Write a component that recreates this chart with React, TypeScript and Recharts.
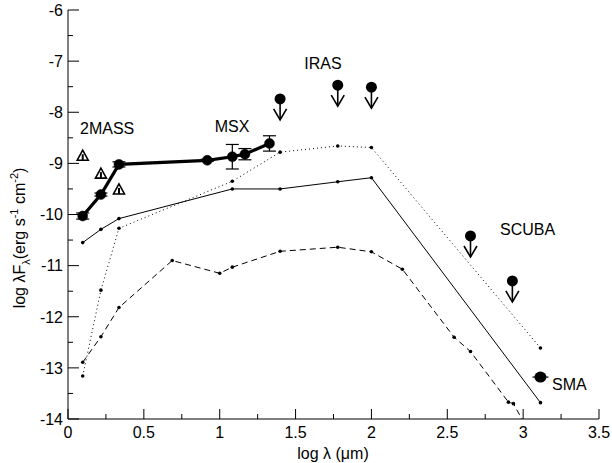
import { ComposedChart, Line, Scatter, XAxis, YAxis, ErrorBar } from 'recharts';

// log wavelength (um) of the observed points: 2MASS J,H,K then MSX A,C,D,E
const obsLogLam = [0.097, 0.217, 0.336, 0.918, 1.083, 1.166, 1.328];
const obsLogFlux = [-10.03, -9.61, -9.02, -8.94, -8.87, -8.82, -8.61];
const obsErr = [0.06, 0.03, 0.05, 0.02, 0.24, 0.11, 0.15];

// open triangles near the 2MASS bands
const triLogLam = [0.097, 0.217, 0.336];
const triLogFlux = [-8.86, -9.21, -9.52];

// upper limits: IRAS 25/60/100, SCUBA 450/850
const limLogLam = [1.398, 1.778, 2.0, 2.653, 2.929];
const limLogFlux = [-7.74, -7.47, -7.51, -10.42, -11.3];

// SMA 1.3 mm
const smaLogLam = [3.114];
const smaLogFlux = [-13.18];

// model SEDs
const modelLogLam = [0.097, 0.217, 0.336, 1.083, 1.398, 1.778, 2.0, 3.114];
const modelSolid = [-10.55, -10.29, -10.08, -9.5, -9.5, -9.36, -9.28, -13.68];
const modelDotted = [-13.16, -11.48, -10.27, -9.35, -8.78, -8.66, -8.69, -12.61];
const dashedLogLam = [0.097, 0.217, 0.336, 0.687, 1.0, 1.083, 1.398, 1.778, 2.0, 2.204, 2.545, 2.653, 2.903, 2.936, 3.114];
const modelDashed = [-12.89, -12.39, -11.82, -10.9, -11.15, -11.03, -10.72, -10.64, -10.73, -11.07, -12.4, -12.68, -13.67, -13.7, -14.66];

const xTicks = [0, 0.25, 0.5, 0.75, 1, 1.25, 1.5, 1.75, 2, 2.25, 2.5, 2.75, 3, 3.25, 3.5];
const yTicks = [-14, -13.5, -13, -12.5, -12, -11.5, -11, -10.5, -10, -9.5, -9, -8.5, -8, -7.5, -7, -6.5, -6];

const W = 612;
const H = 463;
const FONT = 'Liberation Sans, Arial, sans-serif';

const toPts = (xs: number[], ys: number[]) => xs.map((x, i) => ({ x, y: ys[i] }));

const obsData = obsLogLam.map((x, i) => ({ x, y: obsLogFlux[i], err: obsErr[i] }));
const triData = toPts(triLogLam, triLogFlux);
const limData = toPts(limLogLam, limLogFlux);
const smaData = toPts(smaLogLam, smaLogFlux);
const solidData = toPts(modelLogLam, modelSolid);
const dottedData = toPts(modelLogLam, modelDotted);
const dashedData = toPts(dashedLogLam, modelDashed);

const isWhole = (v: number, step: number) => Math.abs(v / step - Math.round(v / step)) < 1e-6;

const BottomTick = ({ x, y, payload }: any) => {
  const major = isWhole(payload.value, 0.5);
  return (
    <g>
      <line x1={x} y1={y} x2={x} y2={y - (major ? 10 : 5)} stroke="#000" />
      {major && (
        <text x={x} y={y + 19} textAnchor="middle" fontSize={16} fontFamily={FONT} fill="#000">
          {payload.value}
        </text>
      )}
    </g>
  );
};

const TopTick = ({ x, y, payload }: any) => {
  const major = isWhole(payload.value, 0.5);
  return <line x1={x} y1={y} x2={x} y2={y + (major ? 10 : 5)} stroke="#000" />;
};

const LeftTick = ({ x, y, payload }: any) => {
  const major = isWhole(payload.value, 1);
  return (
    <g>
      <line x1={x} y1={y} x2={x + (major ? 11 : 5)} y2={y} stroke="#000" />
      {major && (
        <text x={x - 5} y={y} dy="0.36em" textAnchor="end" fontSize={16} fontFamily={FONT} fill="#000">
          {payload.value}
        </text>
      )}
    </g>
  );
};

const RightTick = ({ x, y, payload }: any) => {
  const major = isWhole(payload.value, 1);
  return <line x1={x} y1={y} x2={x - (major ? 11 : 5)} y2={y} stroke="#000" />;
};

const Triangle = ({ cx, cy }: any) => (
  <g>
    <polygon
      points={`${cx},${cy - 6} ${cx - 5.5},${cy + 4} ${cx + 5.5},${cy + 4}`}
      fill="#fff"
      stroke="#000"
      strokeWidth={1.6}
    />
    <line x1={cx} y1={cy - 2} x2={cx} y2={cy + 4} stroke="#000" strokeWidth={2} />
  </g>
);

const LimitMark = ({ cx, cy }: any) => (
  <g>
    <circle cx={cx} cy={cy} r={5.5} fill="#000" />
    <line x1={cx} y1={cy} x2={cx} y2={cy + 21} stroke="#000" strokeWidth={1.6} />
    <polyline
      points={`${cx - 6.5},${cy + 10} ${cx},${cy + 21} ${cx + 6.5},${cy + 10}`}
      fill="none"
      stroke="#000"
      strokeWidth={1.6}
    />
  </g>
);

const SmaMark = ({ cx, cy }: any) => (
  <g>
    <line x1={cx - 8} y1={cy} x2={cx + 8} y2={cy} stroke="#000" strokeWidth={1.2} />
    <ellipse cx={cx} cy={cy} rx={6} ry={5.5} fill="#000" />
  </g>
);

const smallDot = { r: 1.8, fill: '#000', stroke: '#000', strokeWidth: 0 };

export default function App() {
  return (
    <div style={{ position: 'absolute', left: 0, top: 0, width: W, height: H, background: '#fff' }}>
      <ComposedChart width={W} height={H} margin={{ top: 10, right: 13, bottom: 0, left: 0 }}>
        <XAxis
          dataKey="x"
          type="number"
          domain={[0, 3.5]}
          ticks={xTicks}
          interval={0}
          height={44}
          tickLine={false}
          tickSize={0}
          tickMargin={0}
          tick={<BottomTick />}
          axisLine={{ stroke: '#000' }}
          allowDataOverflow
        />
        <XAxis
          xAxisId="top"
          orientation="top"
          dataKey="x"
          type="number"
          domain={[0, 3.5]}
          ticks={xTicks}
          interval={0}
          height={0}
          tickLine={false}
          tickSize={0}
          tickMargin={0}
          tick={<TopTick />}
          axisLine={{ stroke: '#000' }}
          allowDataOverflow
        />
        <YAxis
          type="number"
          domain={[-14, -6]}
          ticks={yTicks}
          interval={0}
          width={68}
          tickLine={false}
          tickSize={0}
          tickMargin={0}
          tick={<LeftTick />}
          axisLine={{ stroke: '#000' }}
          allowDataOverflow
        />
        <YAxis
          yAxisId="right"
          orientation="right"
          type="number"
          domain={[-14, -6]}
          ticks={yTicks}
          interval={0}
          width={0}
          tickLine={false}
          tickSize={0}
          tickMargin={0}
          tick={<RightTick />}
          axisLine={{ stroke: '#000' }}
          allowDataOverflow
        />

        <Line data={dashedData} dataKey="y" stroke="#000" strokeWidth={1} strokeDasharray="6 4" dot={smallDot} activeDot={false} isAnimationActive={false} />
        <Line data={dottedData} dataKey="y" stroke="#000" strokeWidth={1} strokeDasharray="1 3" dot={smallDot} activeDot={false} isAnimationActive={false} />
        <Line data={solidData} dataKey="y" stroke="#000" strokeWidth={1} dot={smallDot} activeDot={false} isAnimationActive={false} />

        <Line
          data={obsData}
          dataKey="y"
          stroke="#000"
          strokeWidth={3.2}
          dot={{ r: 5, fill: '#000', stroke: '#000', strokeWidth: 0.5 }}
          activeDot={false}
          isAnimationActive={false}
        >
          <ErrorBar dataKey="err" width={6.5} stroke="#000" strokeWidth={1.2} direction="y" />
        </Line>

        <Scatter data={triData} dataKey="y" shape={<Triangle />} isAnimationActive={false} />
        <Scatter data={limData} dataKey="y" shape={<LimitMark />} isAnimationActive={false} />
        <Scatter data={smaData} dataKey="y" shape={<SmaMark />} isAnimationActive={false} />
      </ComposedChart>

      <svg width={W} height={H} style={{ position: 'absolute', left: 0, top: 0, pointerEvents: 'none' }}>
        <g fontFamily={FONT} fontSize={16} fill="#000">
          <text x={80} y={134}>2MASS</text>
          <text x={232} y={132} textAnchor="middle">MSX</text>
          <text x={323} y={69} textAnchor="middle">IRAS</text>
          <text x={500} y={235}>SCUBA</text>
          <text x={552} y={390}>SMA</text>
          <text x={333} y={459} textAnchor="middle">
            log λ (μm)
          </text>
          <text transform="translate(25,238) rotate(-90)" textAnchor="middle">
            log λF<tspan fontSize={11} dy={5}>λ</tspan>
            <tspan dy={-5}>(erg s</tspan>
            <tspan fontSize={11} dy={-7}>-1</tspan>
            <tspan dy={7}> cm</tspan>
            <tspan fontSize={11} dy={-7}>-2</tspan>
            <tspan dy={7}>)</tspan>
          </text>
        </g>
      </svg>
    </div>
  );
}
